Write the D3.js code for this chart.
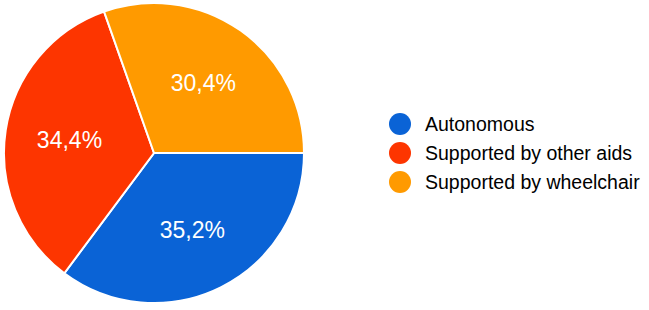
<!DOCTYPE html>
<meta charset="utf-8">
<script src="https://d3js.org/d3.v7.min.js"></script>
<body style="margin:0;background:#fff">
<div id="pie"></div>
</body>
<script>

// data
var categories = ["Autonomous", "Supported by other aids", "Supported by wheelchair"]
var values = [35.2, 34.4, 30.4]
var labels = ["35,2%", "34,4%", "30,4%"]
var colours = ["#0a63d6", "#fd3500", "#ff9a00"]

var width = 649, height = 310

var svg = d3.select("#pie")
  .append("svg")
    .attr("width", width)
    .attr("height", height)
    .style("font-family", "'Liberation Sans', Arial, sans-serif")

var radius = 150
var g = svg.append("g")
    .attr("transform", "translate(154,153)")

var color = d3.scaleOrdinal().domain(categories).range(colours)

// google-style: first slice starts at 3 o'clock, clockwise
var pie = d3.pie()
    .sort(null)
    .startAngle(Math.PI / 2)
    .endAngle(Math.PI / 2 + 2 * Math.PI)
    .value(function(d) { return d.value })

var data = categories.map(function(c, i) { return {key: c, value: values[i], label: labels[i]} })
var arcs = pie(data)

var arc = d3.arc().innerRadius(0).outerRadius(radius)
var labelArc = d3.arc().innerRadius(radius * 0.57).outerRadius(radius * 0.57)

g.selectAll("path")
  .data(arcs)
  .enter()
  .append("path")
    .attr("d", arc)
    .attr("fill", function(d) { return color(d.data.key) })
    .attr("stroke", "#fff")
    .attr("stroke-width", 2)

g.selectAll("text.lbl")
  .data(arcs)
  .enter()
  .append("text")
    .attr("class", "lbl")
    .attr("transform", function(d) { return "translate(" + labelArc.centroid(d) + ")" })
    .attr("text-anchor", "middle")
    .attr("dy", "0.36em")
    .attr("fill", "#fff")
    .style("font-size", "23px")
    .text(function(d) { return d.data.label })

// legend
var legend = svg.append("g")
    .attr("transform", "translate(400,124)")

var y = d3.scalePoint().domain(categories).range([0, 58])

var item = legend.selectAll("g")
  .data(categories)
  .enter()
  .append("g")
    .attr("transform", function(d) { return "translate(0," + y(d) + ")" })

item.append("circle")
    .attr("r", 11)
    .attr("fill", function(d) { return color(d) })

item.append("text")
    .attr("x", 25)
    .attr("dy", "0.36em")
    .attr("fill", "#000")
    .style("font-size", "19.5px")
    .text(function(d) { return d })

</script>
